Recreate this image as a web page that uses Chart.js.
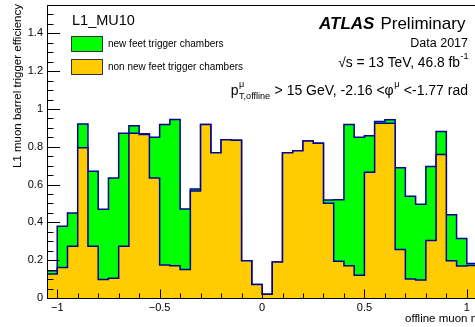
<!DOCTYPE html>
<html>
<head>
<meta charset="utf-8">
<script src="https://cdn.jsdelivr.net/npm/chart.js@4.4.1/dist/chart.umd.min.js"></script>
<style>
  html, body { margin: 0; padding: 0; background: #fff; }
</style>
</head>
<body>
<canvas id="effChart" width="475" height="327"></canvas>
<script>
// offline muon eta bin edges (0.05 wide)
const etaEdges = [-1.05, -1.0, -0.95, -0.9, -0.85, -0.8, -0.75, -0.7, -0.65, -0.6, -0.55,
  -0.5, -0.45, -0.4, -0.35, -0.3, -0.25, -0.2, -0.15, -0.1, -0.05, 0.0,
  0.05, 0.1, 0.15, 0.2, 0.25, 0.3, 0.35, 0.4, 0.45, 0.5,
  0.55, 0.6, 0.65, 0.7, 0.75, 0.8, 0.85, 0.9, 0.95, 1.0, 1.05];

// efficiency per bin
const newFeetEff = [0.144, 0.38, 0.45, 0.92, 0.67, 0.47, 0.635, 0.872, 0.911, 0.869, 0.851,
  0.918, 0.944, 0.471, 0.577, 0.918, 0.768, 0.837, 0.834, 0.197, 0.072,
  0.02, 0.19, 0.768, 0.779, 0.83, 0.819, 0.519, 0.52, 0.918, 0.851,
  0.858, 0.934, 0.943, 0.689, 0.538, 0.496, 0.696, 0.881, 0.44, 0.315, 0.183];
const nonNewFeetEff = [0.127, 0.162, 0.274, 0.795, 0.274, 0.098, 0.105, 0.274, 0.872, 0.865, 0.635,
  0.174, 0.171, 0.151, 0.566, 0.918, 0.768, 0.837, 0.834, 0.197, 0.072,
  0.02, 0.19, 0.768, 0.779, 0.83, 0.819, 0.501, 0.195, 0.171, 0.121,
  0.665, 0.925, 0.925, 0.257, 0.1, 0.095, 0.304, 0.759, 0.197, 0.169, 0.172];

const xTicks = [-1, -0.5, 0, 0.5, 1];
const xTickLabels = ['\u22121', '\u22120.5', '0', '0.5', '1'];
const yTicks = [0, 0.2, 0.4, 0.6, 0.8, 1, 1.2, 1.4];
const yTickLabels = ['0', '0.2', '0.4', '0.6', '0.8', '1', '1.2', '1.4'];

const FONT = '"Liberation Sans", Arial, Helvetica, sans-serif';
const NAVY = '#000099';

// histogram -> step points (left edge of each bin, plus the last right edge)
function stepPoints(vals) {
  const pts = vals.map((v, i) => ({ x: etaEdges[i], y: v }));
  pts.push({ x: etaEdges[vals.length], y: vals[vals.length - 1] });
  return pts;
}

// draws text with ROOT-like super/subscripts, returns the end x
function richText(ctx, parts, x, y, size) {
  for (const p of parts) {
    if (p.sup !== undefined || p.sub !== undefined) {
      ctx.font = (size * 0.65) + 'px ' + FONT;
      let w = 0;
      if (p.sup) { ctx.fillText(p.sup, x + 0.5, y - size * 0.55); w = Math.max(w, ctx.measureText(p.sup).width); }
      if (p.sub) { ctx.fillText(p.sub, x + 0.5, y + size * 0.3); w = Math.max(w, ctx.measureText(p.sub).width); }
      x += w + 1;
    } else {
      ctx.font = size + 'px ' + FONT;
      ctx.fillText(p.t, x, y);
      x += ctx.measureText(p.t).width;
    }
  }
  return x;
}

const rootStyle = {
  id: 'rootStyle',
  afterDatasetsDraw(chart) {
    const { ctx, chartArea: a, scales: { x, y } } = chart;
    ctx.save();
    ctx.strokeStyle = '#000';
    ctx.lineWidth = 1;
    ctx.beginPath();
    ctx.moveTo(a.left + 0.5, a.top + 0.5);
    ctx.lineTo(a.left + 0.5, a.bottom + 0.5);
    ctx.lineTo(a.right, a.bottom + 0.5);
    ctx.moveTo(a.left, a.top + 0.5);
    ctx.lineTo(a.right, a.top + 0.5);
    // y ticks
    for (let v = 0; v <= y.max + 1e-9; v += 0.05) {
      const py = Math.round(y.getPixelForValue(v)) + 0.5;
      const major = yTicks.some(t => Math.abs(t - v) < 1e-6);
      ctx.moveTo(a.left, py);
      ctx.lineTo(a.left + (major ? 13 : 6.5), py);
    }
    // x ticks
    for (let v = -1; v <= x.max + 1e-9; v += 0.1) {
      const px = Math.round(x.getPixelForValue(v)) + 0.5;
      const major = xTicks.some(t => Math.abs(t - v) < 1e-6);
      ctx.moveTo(px, a.bottom);
      ctx.lineTo(px, a.bottom - (major ? 8.5 : 4.5));
    }
    ctx.stroke();

    ctx.fillStyle = '#000';
    ctx.font = '11px ' + FONT;
    ctx.textAlign = 'right';
    ctx.textBaseline = 'middle';
    yTicks.forEach((t, i) => ctx.fillText(yTickLabels[i], a.left - 4, y.getPixelForValue(t)));
    ctx.textAlign = 'center';
    ctx.textBaseline = 'top';
    xTicks.forEach((t, i) => ctx.fillText(xTickLabels[i], x.getPixelForValue(t), a.bottom + 4));

    // axis titles
    ctx.textBaseline = 'alphabetic';
    ctx.font = '11.5px ' + FONT;
    ctx.textAlign = 'left';
    ctx.fillText('offline muon \u03b7', 405, 322);
    ctx.save();
    ctx.translate(21, 4);
    ctx.rotate(-Math.PI / 2);
    ctx.textAlign = 'right';
    ctx.fillText('L1 muon barrel trigger efficiency', 0, 0);
    ctx.restore();

    // labels in the frame
    ctx.textAlign = 'left';
    ctx.font = '14.5px ' + FONT;
    ctx.fillText('L1_MU10', 72, 25);

    // legend
    const legend = [
      { label: 'new feet trigger chambers', color: '#00ff00', y: 36 },
      { label: 'non new feet trigger chambers', color: '#ffcc00', y: 59 }
    ];
    ctx.font = '10px ' + FONT;
    ctx.textBaseline = 'middle';
    legend.forEach(l => {
      ctx.fillStyle = l.color;
      ctx.fillRect(71, l.y, 32, 16);
      ctx.strokeStyle = '#333';
      ctx.strokeRect(71.5, l.y + 0.5, 31, 15);
      ctx.fillStyle = '#000';
      ctx.fillText(l.label, 108, l.y + 8.5);
    });

    ctx.textBaseline = 'alphabetic';
    ctx.font = 'italic bold 17px ' + FONT;
    ctx.fillText('ATLAS', 319, 29);
    const aw = ctx.measureText('ATLAS').width;
    ctx.font = '17px ' + FONT;
    ctx.fillText('Preliminary', 319 + aw + 6, 29);

    ctx.font = '12.5px ' + FONT;
    ctx.textAlign = 'right';
    ctx.fillText('Data 2017', 468, 47);
    ctx.textAlign = 'left';

    // sqrt(s) line, right aligned
    const sParts = [{ t: '\u221As = 13 TeV, 46.8 fb' }, { sup: '-1' }];
    ctx.save();
    ctx.globalAlpha = 0;
    const sEnd = richText(ctx, sParts, 0, 67, 13.8);
    ctx.restore();
    richText(ctx, sParts, 469 - sEnd, 67, 13.8);

    const ptParts = [
      { t: 'p' }, { sup: '\u03bc', sub: 'T,offline' },
      { t: ' > 15 GeV, -2.16 <\u03c6' }, { sup: '\u03bc' },
      { t: ' <-1.77 rad' }
    ];
    ctx.save();
    ctx.globalAlpha = 0;
    const pEnd = richText(ctx, ptParts, 0, 95, 14);
    ctx.restore();
    richText(ctx, ptParts, 468 - pEnd, 95, 14);
    ctx.restore();
  }
};

new Chart(document.getElementById('effChart').getContext('2d'), {
  type: 'line',
  data: {
    datasets: [
      {
        label: 'non new feet trigger chambers',
        data: stepPoints(nonNewFeetEff),
        stepped: 'before',
        fill: 'origin',
        backgroundColor: '#ffcc00',
        borderColor: NAVY,
        borderWidth: 1.5,
        pointRadius: 0,
        order: 0
      },
      {
        label: 'new feet trigger chambers',
        data: stepPoints(newFeetEff),
        stepped: 'before',
        fill: 'origin',
        backgroundColor: '#00ff00',
        borderColor: NAVY,
        borderWidth: 1.5,
        pointRadius: 0,
        order: 1
      }
    ]
  },
  options: {
    responsive: false,
    animation: false,
    layout: { padding: { left: 47, right: 0, top: 5, bottom: 29 } },
    scales: {
      x: { type: 'linear', min: -1.05, max: 1.04, display: false },
      y: { min: 0, max: 1.55, display: false }
    },
    plugins: { legend: { display: false }, tooltip: { enabled: false } }
  },
  plugins: [rootStyle]
});
</script>
</body>
</html>
